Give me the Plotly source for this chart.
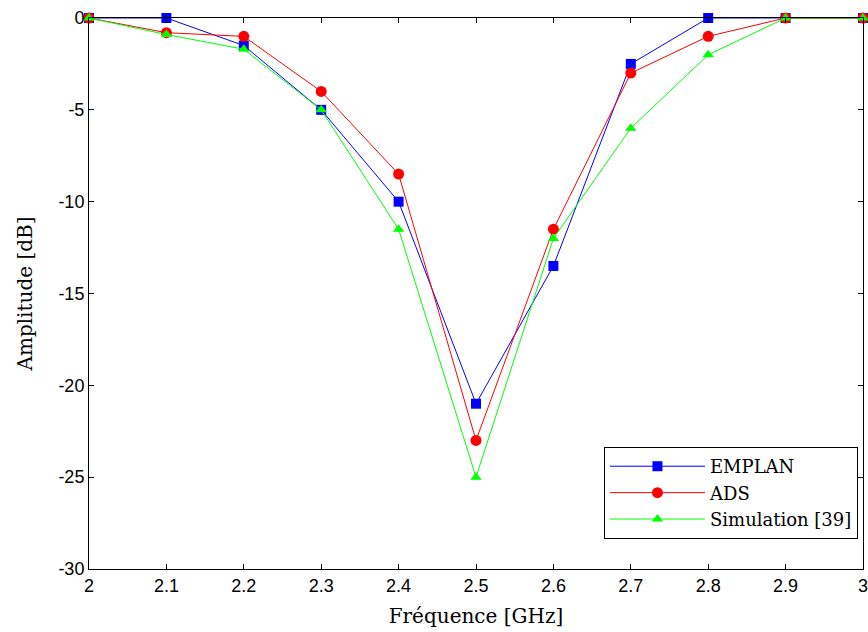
import plotly.graph_objects as go

freq = [2.0, 2.1, 2.2, 2.3, 2.4, 2.5, 2.6, 2.7, 2.8, 2.9, 3.0]
emplan = [0, 0, -1.5, -5, -10, -21, -13.5, -2.5, 0, 0, 0]
ads = [0, -0.8, -1.0, -4, -8.5, -23, -11.5, -3, -1, 0, 0]
simulation = [0, -0.9, -1.7, -5, -11.5, -25, -12, -6, -2, 0, 0]

x_ticks = [2.0, 2.1, 2.2, 2.3, 2.4, 2.5, 2.6, 2.7, 2.8, 2.9, 3.0]
x_ticklabels = ["2", "2.1", "2.2", "2.3", "2.4", "2.5", "2.6", "2.7", "2.8", "2.9", "3"]
y_ticks = [0, -5, -10, -15, -20, -25, -30]
y_ticklabels = ["0", "-5", "-10", "-15", "-20", "-25", "-30"]

fig = go.Figure()
fig.add_trace(go.Scatter(x=freq, y=emplan, name="EMPLAN", mode="lines+markers",
                         line=dict(color="#0000ff", width=1),
                         marker=dict(symbol="square", size=10, color="#0000ff"),
                         cliponaxis=False))
fig.add_trace(go.Scatter(x=freq, y=ads, name="ADS", mode="lines+markers",
                         line=dict(color="#ff0000", width=1),
                         marker=dict(symbol="circle", size=11, color="#ff0000"),
                         cliponaxis=False))
fig.add_trace(go.Scatter(x=freq, y=simulation, name="Simulation [39]", mode="lines+markers",
                         line=dict(color="#00ff00", width=1),
                         marker=dict(symbol="triangle-up", size=10, color="#00ff00"),
                         cliponaxis=False))

axis_common = dict(showgrid=False, zeroline=False, showline=True, linecolor="black",
                   linewidth=1, mirror="ticks", ticks="inside", ticklen=5, automargin=False,
                   ticklabeloverflow="allow",
                   tickcolor="black", tickfont=dict(family="Liberation Sans, Arial", size=18, color="black"))

fig.update_layout(
    width=868, height=632,
    margin=dict(l=89, r=5, t=18, b=63),
    paper_bgcolor="white", plot_bgcolor="white",
    showlegend=True,
    legend=dict(x=0.9935, y=0.0544, xanchor="right", yanchor="bottom",
                bgcolor="white", bordercolor="black", borderwidth=1,
                font=dict(family="DejaVu Serif, Cambria, serif", size=18, color="black"),
                tracegroupgap=0, itemwidth=95),
    xaxis=dict(range=[2, 3], tickvals=x_ticks, ticktext=x_ticklabels,
               title=dict(text="Fréquence [GHz]", standoff=14,
                          font=dict(family="DejaVu Serif, Cambria, serif", size=20, color="black")),
               **axis_common),
    yaxis=dict(range=[-30, 0], tickvals=y_ticks, ticktext=y_ticklabels,
               title=dict(text="Amplitude [dB]", standoff=20,
                          font=dict(family="DejaVu Serif, Cambria, serif", size=20, color="black")),
               **axis_common),
)

fig.write_html("out.html", config={"displayModeBar": False},
               post_script="document.body.style.margin='0';document.body.style.overflow='hidden';")
